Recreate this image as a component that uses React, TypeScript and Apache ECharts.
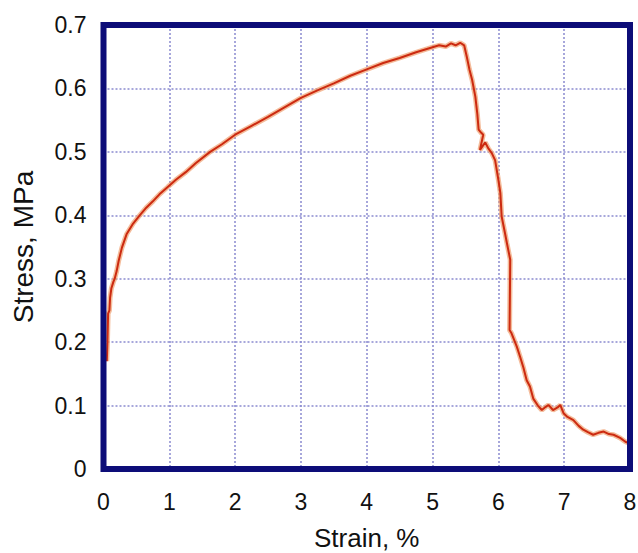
import React, { useEffect, useRef } from "react";
import * as echarts from "echarts";

const strain: number[] = [
  0.05, 0.06, 0.07, 0.09, 0.1, 0.12, 0.15, 0.17, 0.2, 0.23, 0.28, 0.35, 0.45, 0.55, 0.65, 0.75, 0.85, 0.98,
  1.1, 1.25, 1.4, 1.62, 1.8, 2.0, 2.25, 2.5, 2.75, 3.0, 3.25, 3.5, 3.75, 4.0, 4.25, 4.5, 4.75, 5.0,
  5.1, 5.2, 5.28, 5.35, 5.42, 5.48, 5.52, 5.56, 5.6, 5.65, 5.68, 5.7, 5.74, 5.77, 5.72, 5.8, 5.85, 5.9,
  5.95, 6.0, 6.03, 6.05, 6.1, 6.13, 6.18, 6.17, 6.2, 6.28, 6.33, 6.38, 6.43, 6.48, 6.53, 6.6, 6.66,
  6.72, 6.76, 6.83, 6.9, 6.94, 6.99, 7.05, 7.14, 7.22, 7.29, 7.36, 7.44, 7.52, 7.6, 7.68, 7.75, 7.85,
  7.93, 8.0,
];
const stress: number[] = [
  0.17, 0.2, 0.245, 0.25, 0.27, 0.285, 0.295, 0.3, 0.312, 0.328, 0.349, 0.37, 0.387, 0.4, 0.412, 0.422, 0.433, 0.445,
  0.456, 0.468, 0.482, 0.5, 0.512, 0.527, 0.541, 0.555, 0.57, 0.585, 0.597, 0.608, 0.62, 0.63, 0.64, 0.648, 0.657, 0.665,
  0.668, 0.666, 0.671, 0.668, 0.672, 0.668, 0.65, 0.63, 0.614, 0.587, 0.56, 0.535, 0.53, 0.527, 0.503, 0.515, 0.505, 0.498,
  0.487, 0.456, 0.435, 0.398, 0.372, 0.356, 0.33, 0.219, 0.214, 0.193, 0.177, 0.16, 0.14, 0.13, 0.111, 0.1, 0.093,
  0.098, 0.101, 0.093, 0.097, 0.101, 0.088, 0.082, 0.077, 0.068, 0.062, 0.058, 0.054, 0.057, 0.059, 0.055, 0.054, 0.049,
  0.043, 0.04,
];

const xName = "Strain, %";
const yName = "Stress, MPa";

export default function App() {
  const ref = useRef<HTMLDivElement>(null);
  useEffect(() => {
    document.body.style.margin = "0";
    if (!ref.current) return;
    const chart = echarts.init(ref.current, null, { renderer: "svg" });
    const data = strain.map((x, i) => [x, stress[i]]);
    const font = "Liberation Sans, Arial, sans-serif";
    const split = {
      show: true,
      showMinLine: false,
      showMaxLine: false,
      lineStyle: { color: "#8a8ad0", width: 1.5, type: [2, 2] as any },
    };
    chart.setOption({
      animation: false,
      backgroundColor: "#ffffff",
      grid: {
        left: 103.5,
        right: 8,
        top: 25,
        bottom: 84,
        show: true,
        borderColor: "#0d0d78",
        borderWidth: 6,
        z: 5,
        outerBoundsMode: "none",
        containLabel: false,
      },
      xAxis: {
        type: "value",
        min: 0,
        max: 8,
        interval: 1,
        name: xName,
        nameLocation: "middle",
        nameGap: 56,
        nameTextStyle: { fontSize: 26, color: "#111", fontFamily: font },
        axisLine: { show: false },
        axisTick: { show: false },
        axisLabel: { fontSize: 23, color: "#111", fontFamily: font, margin: 21 },
        splitLine: split,
      },
      yAxis: {
        type: "value",
        min: 0,
        max: 0.7,
        interval: 0.1,
        name: yName,
        nameLocation: "middle",
        nameGap: 66,
        nameTextStyle: { fontSize: 28, color: "#111", fontFamily: font },
        axisLine: { show: false },
        axisTick: { show: false },
        axisLabel: {
          fontSize: 23,
          color: "#111",
          fontFamily: font,
          margin: 17,
          formatter: (v: number) => (v === 0 ? "0" : v.toFixed(1)),
        },
        splitLine: split,
      },
      series: [
        {
          type: "line",
          data,
          showSymbol: false,
          lineStyle: { color: "#f0a070", width: 5, opacity: 0.7 },
          z: 2,
        },
        {
          type: "line",
          data,
          showSymbol: false,
          lineStyle: { color: "#cc2a10", width: 2 },
          z: 3,
        },
      ],
    });
    return () => chart.dispose();
  }, []);
  return <div ref={ref} style={{ width: 638, height: 553 }} />;
}
